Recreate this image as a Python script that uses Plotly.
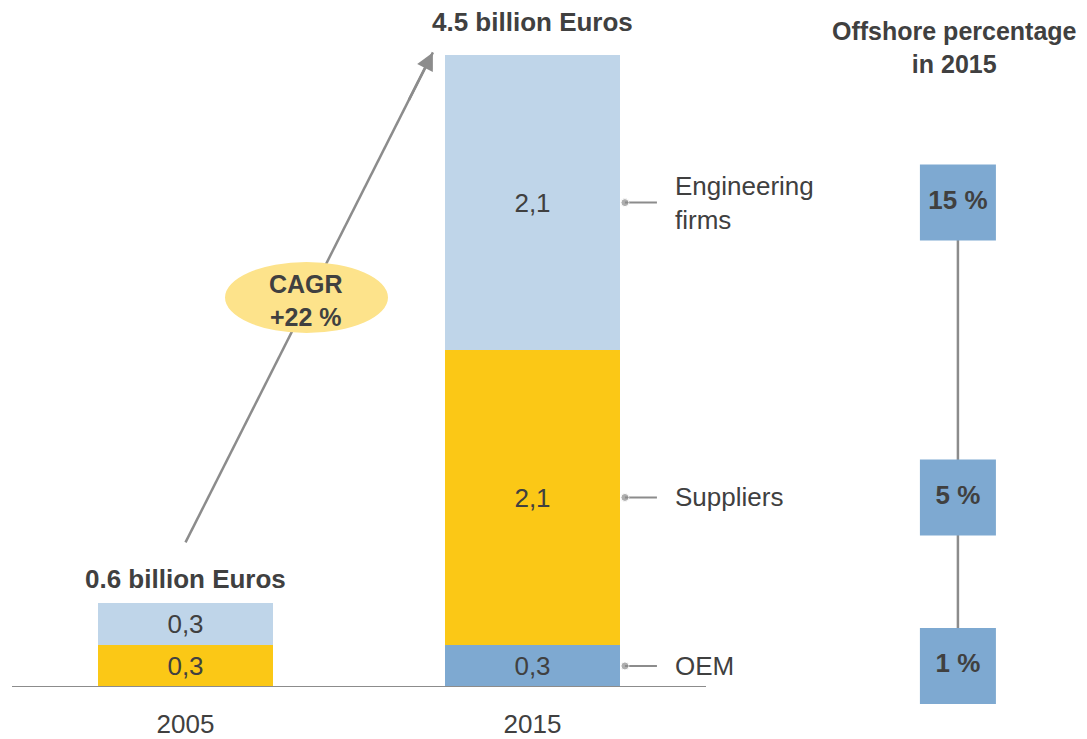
import plotly.graph_objects as go

# ---- data ----
years = ["2005", "2015"]
year_pos = [0, 1]
oem = [0.0, 0.3]
suppliers = [0.3, 2.1]
engineering = [0.3, 2.1]
totals_label = ["0.6 billion Euros", "4.5 billion Euros"]
segment_names = ["OEM", "Suppliers", "Engineering<br>firms"]
offshore_pct = [1, 5, 15]
cagr_label = "CAGR<br>+22 %"
offshore_title = "Offshore percentage<br>in 2015"

# ---- styles ----
C_OEM = "#7EA9D1"
C_SUP = "#FBC816"
C_ENG = "#BFD5E9"
C_TXT = "#404040"
C_GRAY = "#8C8C8C"
FONT = "Liberation Sans, Arial, sans-serif"
FS = 26
FSB = 26

PAGE_OFF = 8  # default body margin of the html page
W, H = 1087 - PAGE_OFF, 739 - PAGE_OFF
BASE_PX = 687 - PAGE_OFF
PX_PER_X = 347.0
X0_PX = 185.5 - PAGE_OFF
PX_PER_Y = 140.4
BAR_W = 0.504
OFF_X = 2.226


def px_x(p):
    return (p - PAGE_OFF - X0_PX) / PX_PER_X


def px_y(p):
    return (BASE_PX - (p - PAGE_OFF)) / PX_PER_Y


xr = [(0 - X0_PX) / PX_PER_X, (W - X0_PX) / PX_PER_X]
yr = [0, BASE_PX / PX_PER_Y]


def fmt(v):
    return ("%.1f" % v).replace(".", ",") if v > 0 else ""


fig = go.Figure()
for name, vals, col in [("OEM", oem, C_OEM), ("Suppliers", suppliers, C_SUP),
                        ("Engineering firms", engineering, C_ENG)]:
    fig.add_trace(go.Bar(
        x=year_pos, y=vals, width=BAR_W, name=name,
        marker=dict(color=col, line=dict(width=0)),
        text=[fmt(v) for v in vals], textposition="inside",
        insidetextanchor="middle", textangle=0, constraintext="none",
        textfont=dict(family=FONT, size=FS, color=C_TXT),
        hoverinfo="skip", showlegend=False,
    ))

# segment midpoints for 2015
mids = [oem[1] / 2, oem[1] + suppliers[1] / 2, oem[1] + suppliers[1] + engineering[1] / 2]
right_edge = 1 + BAR_W / 2
dot_x = right_edge + 5 / PX_PER_X
line_end = right_edge + 37 / PX_PER_X
label_x = right_edge + 53 / PX_PER_X

for m in mids:
    fig.add_trace(go.Scatter(
        x=[dot_x, line_end], y=[m, m], mode="lines+markers",
        line=dict(color=C_GRAY, width=2),
        marker=dict(size=[8, 0], color=C_GRAY),
        hoverinfo="skip", showlegend=False, cliponaxis=False,
    ))

# offshore connector line and boxes
fig.add_trace(go.Scatter(
    x=[OFF_X] * 3, y=mids, mode="lines",
    line=dict(color=C_GRAY, width=2.5), hoverinfo="skip", showlegend=False,
))
fig.add_trace(go.Scatter(
    x=[OFF_X] * 3, y=mids, mode="markers+text",
    marker=dict(symbol="square", size=76, color=C_OEM, line=dict(width=0)),
    text=["<b>%d %%</b>" % p for p in offshore_pct], textposition="middle center",
    textfont=dict(family=FONT, size=FSB, color=C_TXT),
    hoverinfo="skip", showlegend=False, cliponaxis=False,
))

shapes = []
# baseline
shapes.append(dict(type="line", xref="x", yref="y", x0=-0.5, x1=1.5, y0=0, y1=0,
                   line=dict(color=C_GRAY, width=2), layer="above"))
# CAGR arrow line (shape) and ellipse on top
tot05 = oem[0] + suppliers[0] + engineering[0]
tot15 = oem[1] + suppliers[1] + engineering[1]
ax0, ay0 = 0.0, tot05 + 0.43
ax1, ay1 = 0.713, tot15 + 0.02
shapes.append(dict(type="line", xref="x", yref="y", x0=ax0, y0=ay0, x1=ax1, y1=ay1,
                   line=dict(color=C_GRAY, width=2.5)))
shapes.append(dict(type="circle", xref="x", yref="y",
                   x0=px_x(225), x1=px_x(388), y0=px_y(333), y1=px_y(262),
                   fillcolor="#FDE38B", line=dict(width=0)))

annotations = []
# arrowhead
t = 0.9
annotations.append(dict(x=ax1, y=ay1, xref="x", yref="y",
                        ax=ax0 + (ax1 - ax0) * t, ay=ay0 + (ay1 - ay0) * t,
                        axref="x", ayref="y", showarrow=True, arrowhead=2,
                        arrowsize=1.4, arrowwidth=2.5, arrowcolor=C_GRAY, text=""))
annotations.append(dict(x=px_x(306), y=px_y(300),
                        xref="x", yref="y", text="<b>%s</b>" % cagr_label, showarrow=False,
                        font=dict(family=FONT, size=FSB - 1, color=C_TXT)))
# totals
for xp, tot, lab, shift in [(0, tot05, totals_label[0], 24), (1, tot15, totals_label[1], 33)]:
    annotations.append(dict(x=xp, y=tot, xref="x", yref="y", yshift=shift,
                            text="<b>%s</b>" % lab, showarrow=False, yanchor="middle",
                            font=dict(family=FONT, size=FSB, color=C_TXT)))
# segment labels
for m, nm in zip(mids, segment_names):
    annotations.append(dict(x=label_x, y=m, xref="x", yref="y", text=nm,
                            showarrow=False, xanchor="left", yanchor="middle", align="left",
                            font=dict(family=FONT, size=FS, color=C_TXT)))
# offshore title
annotations.append(dict(x=px_x(954), y=px_y(47),
                        xref="x", yref="y", text="<b>%s</b>" % offshore_title,
                        showarrow=False, yanchor="middle",
                        font=dict(family=FONT, size=FSB - 1, color=C_TXT)))

fig.update_layout(
    width=W, height=H, margin=dict(l=0, r=0, t=0, b=H - BASE_PX),
    barmode="stack", bargap=0,
    plot_bgcolor="white", paper_bgcolor="white",
    shapes=shapes, annotations=annotations,
    xaxis=dict(range=xr, tickvals=year_pos, ticktext=years, showgrid=False,
               zeroline=False, showline=False, ticks="outside", ticklen=14,
               tickcolor="rgba(0,0,0,0)", automargin=False,
               tickfont=dict(family=FONT, size=FS, color=C_TXT), fixedrange=True),
    yaxis=dict(range=yr, showgrid=False, zeroline=False, showline=False,
               showticklabels=False, fixedrange=True, automargin=False),
    uniformtext=dict(mode=False),
)

fig.write_html("out.html")
